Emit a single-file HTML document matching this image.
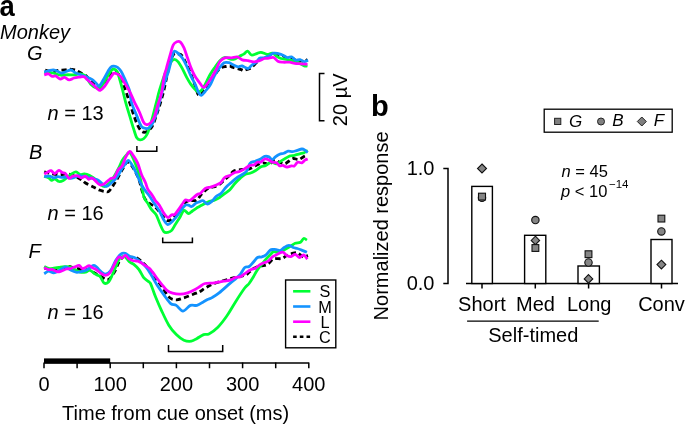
<!DOCTYPE html>
<html><head><meta charset="utf-8">
<style>
html,body{margin:0;padding:0;background:#fff;}
svg{display:block;will-change:transform;}
text{font-family:"Liberation Sans",sans-serif;fill:#000;}
.it{font-style:italic;}
</style></head><body>
<svg width="685" height="425" viewBox="0 0 685 425">
<!-- panel a labels -->
<text transform="translate(-0.6,15.6) scale(0.93,1)" font-size="29.5" font-weight="bold">a</text>
<text x="0" y="38.7" font-size="20" class="it">Monkey</text>
<text x="27" y="60.3" font-size="20" class="it">G</text>
<text x="29" y="158.5" font-size="20" class="it">B</text>
<text x="28.5" y="258.2" font-size="20" class="it">F</text>
<text x="47.5" y="119.7" font-size="20"><tspan class="it">n</tspan> = 13</text>
<text x="47.5" y="219.9" font-size="20"><tspan class="it">n</tspan> = 16</text>
<text x="47.5" y="319.2" font-size="20"><tspan class="it">n</tspan> = 16</text>
<g fill="none" stroke-width="2.8" stroke-linejoin="round">
<path d="M45.2 70.0 C45.8 70.2 47.7 70.7 49.0 71.0 C50.3 71.3 51.9 72.0 53.2 71.9 C54.5 71.8 55.7 70.8 56.9 70.5 C58.1 70.2 59.2 70.3 60.5 70.2 C61.8 70.1 63.6 70.1 64.9 69.9 C66.2 69.7 67.0 69.2 68.2 69.1 C69.4 69.0 70.8 69.3 72.0 69.5 C73.2 69.7 74.8 69.7 75.7 70.0 C76.6 70.3 76.7 70.7 77.6 71.2 C78.5 71.7 79.8 72.3 81.0 73.0 C82.2 73.7 83.8 74.3 85.1 75.2 C86.4 76.1 87.7 77.5 88.9 78.5 C90.1 79.5 91.2 80.4 92.5 81.5 C93.8 82.6 95.2 84.0 96.5 85.0 C97.8 86.0 98.8 87.8 100.0 87.5 C101.2 87.2 102.6 85.1 104.0 83.5 C105.4 81.9 106.9 79.8 108.2 78.0 C109.5 76.2 110.8 73.6 112.0 72.5 C113.2 71.4 114.3 71.1 115.5 71.5 C116.7 71.9 117.8 73.0 119.0 75.0 C120.2 77.0 121.5 80.4 122.7 83.2 C123.9 86.0 124.8 88.4 126.0 91.7 C127.2 95.0 128.4 99.1 129.7 102.9 C131.0 106.7 132.3 110.9 133.6 114.6 C134.9 118.3 136.1 122.1 137.5 124.9 C138.9 127.7 140.4 130.5 142.0 131.6 C143.6 132.7 145.5 132.3 147.2 131.4 C148.9 130.5 150.8 128.8 152.3 126.2 C153.8 123.6 155.0 119.3 156.2 115.9 C157.4 112.5 158.3 110.0 159.5 106.0 C160.7 102.0 162.2 97.1 163.5 92.0 C164.8 86.9 166.0 80.0 167.1 75.3 C168.2 70.6 169.0 67.0 169.8 64.0 C170.6 61.0 171.2 58.8 172.0 57.0 C172.8 55.2 173.6 53.9 174.7 53.4 C175.8 52.9 177.3 53.6 178.5 54.0 C179.7 54.4 180.6 54.0 181.8 55.5 C183.1 57.0 184.6 60.1 186.0 63.0 C187.4 65.9 189.0 69.2 190.5 73.0 C192.0 76.8 193.9 82.2 195.2 85.8 C196.5 89.4 197.1 93.3 198.2 94.7 C199.2 96.1 200.5 94.8 201.5 94.0 C202.5 93.2 202.8 92.0 204.1 90.0 C205.3 88.0 207.2 84.5 209.0 82.0 C210.8 79.5 213.1 76.7 214.7 74.7 C216.3 72.7 217.2 71.2 218.5 70.0 C219.8 68.8 221.2 67.8 222.4 67.2 C223.7 66.6 224.8 66.7 226.0 66.5 C227.2 66.3 228.8 65.9 229.8 66.0 C230.9 66.1 231.1 66.8 232.3 67.2 C233.5 67.6 235.5 68.1 237.0 68.5 C238.5 68.9 240.4 69.4 241.4 69.7 C242.4 70.0 242.1 70.5 243.0 70.5 C243.9 70.5 245.6 70.0 247.0 69.5 C248.4 69.0 249.7 68.8 251.2 67.7 C252.7 66.6 254.5 64.5 256.0 63.0 C257.5 61.5 258.3 59.9 260.0 59.0 C261.7 58.1 263.8 58.3 266.0 57.5 C268.2 56.7 270.5 54.4 273.0 54.0 C275.5 53.6 278.7 54.3 281.0 55.0 C283.3 55.7 285.2 57.5 287.0 58.0 C288.8 58.5 290.5 57.6 292.0 58.0 C293.5 58.4 294.7 60.1 296.0 60.5 C297.3 60.9 298.7 60.3 300.0 60.5 C301.3 60.7 302.8 61.6 304.0 61.5 C305.2 61.4 306.9 59.9 307.5 59.6" stroke="#000" stroke-dasharray="5.2 3.2"/>
<path d="M44.2 72.4 C45.5 72.5 49.5 72.4 52.2 72.9 C55.0 73.4 58.0 74.9 60.7 75.2 C63.4 75.5 66.0 74.8 68.2 74.7 C70.4 74.7 71.9 75.1 73.9 74.9 C75.9 74.8 78.5 73.7 80.4 73.8 C82.3 73.9 83.4 74.0 85.1 75.7 C86.8 77.4 88.9 82.2 90.8 84.2 C92.7 86.2 94.8 87.4 96.4 87.9 C98.0 88.4 99.3 88.0 100.6 87.0 C101.9 86.0 103.0 84.0 104.4 81.8 C105.8 79.6 107.8 75.8 109.1 73.8 C110.3 71.8 111.0 70.7 111.9 69.9 C112.8 69.1 113.4 68.8 114.3 69.1 C115.2 69.4 116.2 69.9 117.1 71.5 C118.0 73.1 118.7 75.9 119.5 78.5 C120.3 81.1 121.1 84.3 121.8 87.0 C122.5 89.7 123.0 91.8 123.7 94.5 C124.4 97.2 124.8 99.3 125.8 102.9 C126.8 106.5 128.4 111.6 129.7 115.9 C131.0 120.2 132.4 125.2 133.6 128.8 C134.8 132.5 135.7 136.0 136.8 137.8 C137.9 139.6 138.8 139.7 140.0 139.8 C141.2 139.9 142.7 139.5 143.9 138.5 C145.1 137.5 146.1 136.3 147.2 134.0 C148.3 131.7 149.3 128.3 150.4 124.9 C151.5 121.5 152.5 117.4 153.6 113.3 C154.7 109.2 155.9 104.0 156.9 100.3 C157.9 96.5 157.9 95.3 159.3 90.8 C160.7 86.3 163.3 77.9 165.3 73.1 C167.3 68.3 169.7 64.1 171.2 61.8 C172.7 59.5 173.1 59.3 174.3 59.3 C175.5 59.3 176.8 60.2 178.2 61.8 C179.6 63.4 181.1 66.3 182.5 68.9 C183.9 71.5 185.3 74.8 186.7 77.4 C188.1 80.0 189.5 82.4 190.9 84.4 C192.3 86.4 194.0 88.2 195.2 89.4 C196.4 90.6 197.1 91.7 198.2 91.8 C199.3 91.9 200.6 91.3 201.8 90.0 C203.0 88.7 203.9 86.6 205.3 84.1 C206.7 81.5 208.4 77.5 210.0 74.7 C211.6 72.0 213.0 69.9 214.7 67.6 C216.3 65.3 218.2 62.4 219.9 60.7 C221.6 59.0 223.0 57.6 224.9 57.4 C226.8 57.2 229.7 59.2 231.5 59.4 C233.3 59.6 234.2 59.1 235.6 58.6 C237.0 58.1 238.3 56.9 239.7 56.1 C241.1 55.4 242.5 54.9 243.8 54.1 C245.1 53.3 246.3 51.1 247.6 51.2 C248.9 51.4 250.0 54.6 251.5 55.0 C253.0 55.4 255.0 54.1 256.6 53.6 C258.2 53.1 259.1 52.2 260.9 52.3 C262.7 52.4 265.3 54.1 267.2 54.3 C269.1 54.4 270.9 52.9 272.5 53.2 C274.1 53.6 275.4 55.5 276.8 56.4 C278.2 57.3 279.2 58.0 281.0 58.5 C282.8 59.0 285.4 59.2 287.3 59.6 C289.2 60.0 290.8 60.2 292.6 60.6 C294.4 61.0 295.9 61.3 297.9 62.2 C299.8 63.1 302.7 65.3 304.3 65.9 C305.9 66.5 307.0 65.9 307.5 65.9" stroke="#00ff33"/>
<path d="M44.2 71.9 C44.9 71.7 47.0 71.1 48.5 70.8 C50.0 70.5 51.8 69.9 53.2 69.9 C54.6 69.9 55.5 70.5 56.9 71.0 C58.3 71.5 60.0 73.0 61.6 73.1 C63.2 73.2 64.7 72.0 66.3 71.5 C67.9 71.0 69.6 69.8 71.0 70.0 C72.4 70.2 73.4 71.7 74.8 72.4 C76.2 73.1 77.9 73.7 79.5 74.3 C81.1 74.9 82.6 75.6 84.2 76.2 C85.8 76.8 87.5 77.4 88.9 78.0 C90.3 78.6 91.5 79.0 92.7 79.9 C94.0 80.8 95.3 82.5 96.4 83.5 C97.5 84.5 98.0 86.7 99.2 86.0 C100.4 85.3 102.0 82.0 103.5 79.5 C105.0 77.0 107.0 73.1 108.2 71.0 C109.5 68.9 110.1 67.8 111.0 67.0 C111.9 66.2 112.7 66.0 113.8 66.1 C114.9 66.2 116.4 66.6 117.6 67.4 C118.8 68.2 119.8 69.3 120.9 71.0 C122.0 72.7 123.1 75.2 124.2 77.6 C125.3 79.9 126.5 82.8 127.4 85.1 C128.3 87.4 129.1 88.7 129.8 91.7 C130.5 94.7 130.4 98.9 131.6 102.9 C132.8 106.9 135.2 112.0 136.8 115.9 C138.4 119.8 139.8 124.1 141.3 126.2 C142.8 128.3 144.5 128.3 145.9 128.5 C147.3 128.7 148.5 128.5 149.7 127.5 C150.9 126.5 151.8 124.9 153.0 122.3 C154.2 119.7 155.6 116.0 156.9 112.0 C158.2 108.0 159.3 102.8 160.6 98.0 C161.9 93.2 163.2 87.4 164.5 83.0 C165.8 78.6 167.1 76.4 168.4 71.7 C169.8 67.0 171.6 58.2 172.6 54.8 C173.6 51.4 173.8 51.4 174.7 51.2 C175.6 51.0 176.9 52.2 178.2 53.4 C179.5 54.6 181.1 56.2 182.5 58.3 C183.9 60.4 185.3 63.2 186.7 66.1 C188.1 69.0 189.5 72.9 190.9 75.9 C192.3 79.0 193.9 81.7 195.2 84.4 C196.5 87.2 197.5 90.6 198.5 92.4 C199.5 94.2 200.1 95.5 201.2 95.3 C202.3 95.1 203.8 92.9 205.3 91.2 C206.8 89.5 208.4 88.0 210.0 85.3 C211.6 82.6 213.0 78.3 214.7 75.3 C216.3 72.3 218.3 69.3 219.9 67.2 C221.5 65.1 222.6 63.5 224.1 62.7 C225.6 62.0 227.5 62.4 229.0 62.7 C230.5 63.1 231.6 64.1 233.1 64.8 C234.6 65.5 236.6 66.6 238.1 66.8 C239.6 67.0 240.5 65.7 242.2 66.0 C243.8 66.3 246.3 68.7 248.0 68.5 C249.7 68.3 250.7 65.8 252.1 64.8 C253.5 63.8 255.0 63.4 256.2 62.3 C257.4 61.2 258.4 58.9 259.5 58.2 C260.6 57.5 261.5 58.3 263.0 58.0 C264.5 57.7 266.5 57.2 268.3 56.4 C270.1 55.6 271.5 53.6 273.6 53.2 C275.7 52.9 278.7 53.6 281.0 54.3 C283.3 55.0 285.5 57.1 287.3 57.5 C289.1 57.9 290.2 56.5 291.6 56.9 C293.0 57.3 294.4 59.6 295.8 60.1 C297.2 60.6 298.6 59.3 300.0 59.6 C301.4 59.9 303.0 61.6 304.3 61.7 C305.6 61.8 307.4 60.4 308.0 60.1" stroke="#1493ff"/>
<path d="M44.2 74.9 C44.9 74.7 47.2 73.5 48.5 73.8 C49.8 74.0 51.0 76.1 52.2 76.4 C53.4 76.8 54.2 75.5 55.5 75.9 C56.8 76.3 58.7 78.8 60.2 79.0 C61.7 79.2 63.0 77.2 64.5 77.4 C66.0 77.6 67.6 79.8 69.2 79.9 C70.8 80.0 72.2 78.5 73.9 78.0 C75.6 77.5 77.8 77.3 79.5 77.1 C81.2 76.9 83.0 76.4 84.2 76.8 C85.5 77.2 85.9 78.5 87.0 79.5 C88.1 80.5 89.5 81.6 90.8 82.7 C92.0 83.8 93.4 85.0 94.5 86.0 C95.6 87.0 96.5 88.1 97.5 88.8 C98.5 89.5 99.0 90.7 100.2 90.3 C101.4 89.9 102.9 88.3 104.4 86.5 C105.9 84.7 107.5 81.7 109.1 79.5 C110.7 77.3 112.4 74.2 113.8 73.3 C115.2 72.4 116.5 73.8 117.6 74.3 C118.7 74.8 119.3 74.9 120.4 76.2 C121.5 77.5 123.0 80.3 124.2 82.3 C125.5 84.3 126.8 86.5 127.9 88.4 C129.0 90.3 129.6 91.4 130.7 93.6 C131.8 95.8 132.8 98.5 134.2 101.6 C135.6 104.7 137.9 108.7 139.4 112.0 C140.9 115.3 142.1 119.6 143.3 121.7 C144.5 123.8 145.3 124.5 146.5 124.7 C147.7 124.9 149.1 124.2 150.4 123.0 C151.7 121.8 153.1 120.0 154.3 117.2 C155.5 114.4 156.3 110.0 157.5 106.0 C158.7 102.0 160.4 97.9 161.5 93.0 C162.6 88.1 163.3 80.7 164.1 76.5 C164.9 72.3 165.6 71.4 166.5 68.0 C167.4 64.6 168.7 60.1 169.8 56.2 C170.9 52.4 172.1 47.3 173.3 44.9 C174.5 42.5 175.6 42.3 176.8 41.8 C178.0 41.3 179.2 41.1 180.4 42.1 C181.6 43.1 182.7 45.1 183.9 47.7 C185.1 50.3 186.2 54.3 187.4 57.6 C188.6 60.9 189.8 64.7 190.9 67.5 C192.0 70.3 193.0 72.5 194.0 74.5 C195.0 76.5 196.0 77.8 197.1 79.4 C198.2 81.0 199.5 82.7 200.6 84.1 C201.7 85.5 202.4 87.6 203.5 87.6 C204.6 87.6 205.8 85.7 207.1 84.1 C208.4 82.5 209.7 80.5 211.2 78.2 C212.7 75.9 214.4 72.8 215.9 70.0 C217.4 67.2 218.4 63.5 219.9 61.5 C221.4 59.5 223.0 58.4 224.9 57.8 C226.8 57.2 229.4 57.9 231.5 57.8 C233.6 57.6 235.4 56.6 237.2 56.9 C239.0 57.2 240.4 59.2 242.2 59.8 C244.0 60.4 246.1 60.4 248.0 60.7 C249.9 61.1 251.8 61.9 253.7 61.9 C255.6 61.9 257.7 61.3 259.5 60.7 C261.3 60.1 263.0 58.9 264.4 58.5 C265.8 58.1 266.5 58.5 268.0 58.3 C269.5 58.1 272.0 57.0 273.6 57.5 C275.2 58.0 276.2 60.4 277.8 61.2 C279.4 62.0 281.2 62.0 283.1 62.2 C285.1 62.4 287.6 62.0 289.5 62.2 C291.4 62.4 292.9 63.0 294.8 63.3 C296.7 63.6 299.0 63.6 301.1 63.8 C303.2 64.0 306.4 64.2 307.5 64.3" stroke="#ff00ff"/>
<path d="M44.2 171.9 C45.3 172.2 48.1 173.1 50.6 173.5 C53.1 173.9 56.0 174.5 59.0 174.6 C62.0 174.7 65.6 173.6 68.6 174.0 C71.6 174.4 74.7 176.1 77.0 177.2 C79.3 178.3 80.9 179.4 82.3 180.4 C83.7 181.4 83.9 182.0 85.5 183.0 C87.1 184.0 90.3 185.4 91.9 186.2 C93.5 187.0 93.6 187.1 95.0 187.8 C96.4 188.5 98.5 189.7 100.2 190.3 C101.9 190.9 103.5 191.4 105.0 191.5 C106.5 191.6 107.4 192.7 109.2 190.9 C111.0 189.2 113.8 184.5 116.0 181.0 C118.2 177.5 120.3 172.9 122.2 169.8 C124.1 166.7 125.6 162.3 127.5 162.2 C129.4 162.0 131.9 165.9 133.8 168.9 C135.7 171.9 137.3 175.3 139.0 179.9 C140.7 184.5 142.3 192.9 143.9 196.7 C145.5 200.5 146.9 201.0 148.5 202.5 C150.1 204.0 152.0 204.7 153.6 205.9 C155.2 207.2 156.4 208.2 158.0 210.0 C159.6 211.8 161.4 214.7 163.0 216.5 C164.6 218.3 166.2 220.4 167.8 220.7 C169.4 221.0 171.0 219.6 172.5 218.5 C174.0 217.4 175.6 215.8 177.0 214.0 C178.4 212.2 179.8 209.8 181.0 208.0 C182.2 206.2 183.2 204.2 184.5 203.0 C185.8 201.8 187.2 201.1 188.5 200.7 C189.8 200.3 191.2 200.6 192.5 200.5 C193.8 200.4 195.0 201.2 196.6 200.1 C198.2 199.0 200.1 195.7 202.0 193.8 C203.9 191.9 206.1 189.7 207.9 188.6 C209.7 187.5 211.3 187.6 213.0 187.0 C214.7 186.4 216.4 186.5 218.3 185.3 C220.2 184.1 222.9 181.2 224.7 179.6 C226.5 178.0 227.5 177.4 229.0 176.0 C230.5 174.6 231.9 172.1 233.8 171.0 C235.7 169.9 238.4 170.0 240.3 169.7 C242.2 169.4 243.4 169.5 245.0 169.3 C246.6 169.1 248.3 169.2 250.0 168.6 C251.7 168.0 253.2 166.9 255.3 165.9 C257.4 164.9 260.4 163.1 262.7 162.8 C265.0 162.5 267.0 164.8 269.0 164.3 C271.0 163.9 273.1 160.4 274.9 160.1 C276.7 159.8 278.3 161.9 280.0 162.5 C281.7 163.1 283.4 164.1 284.9 163.8 C286.4 163.6 287.6 161.9 289.0 161.0 C290.4 160.1 291.8 158.7 293.4 158.5 C295.0 158.3 296.9 159.9 298.7 159.6 C300.5 159.2 302.5 157.2 304.0 156.4 C305.5 155.6 307.1 155.2 307.7 155.0" stroke="#000" stroke-dasharray="5.2 3.2"/>
<path d="M44.2 176.2 C44.9 176.5 47.3 177.1 48.5 177.8 C49.7 178.5 50.6 180.2 51.6 180.4 C52.6 180.6 53.6 178.6 54.8 178.8 C56.0 179.0 57.6 181.2 59.0 181.5 C60.4 181.8 61.9 181.1 63.3 180.4 C64.7 179.7 66.1 178.3 67.5 177.2 C68.9 176.1 70.3 174.9 71.7 174.0 C73.1 173.1 74.6 171.8 76.0 171.9 C77.4 172.0 78.8 174.2 80.2 174.6 C81.6 174.9 82.8 173.8 84.4 174.0 C86.0 174.2 88.1 174.9 89.7 175.6 C91.3 176.3 92.7 177.4 94.0 178.3 C95.3 179.2 96.3 179.9 97.5 181.0 C98.7 182.1 99.8 184.1 101.0 185.0 C102.2 185.9 103.7 186.8 105.0 186.5 C106.3 186.2 107.4 185.2 109.0 183.5 C110.6 181.8 112.8 178.5 114.4 176.0 C116.0 173.5 117.2 171.1 118.5 168.5 C119.8 165.9 121.0 162.7 122.2 160.5 C123.5 158.3 124.7 156.8 126.0 155.5 C127.3 154.2 128.4 151.5 129.9 152.8 C131.4 154.1 133.4 158.8 135.1 163.1 C136.8 167.4 138.8 173.0 140.3 178.6 C141.8 184.2 142.7 192.7 143.9 196.8 C145.2 200.9 146.5 201.2 147.8 203.3 C149.1 205.5 150.2 207.8 151.6 209.7 C153.0 211.6 154.8 212.5 156.2 214.9 C157.6 217.3 158.7 221.2 160.0 224.0 C161.3 226.8 162.6 230.3 163.9 231.7 C165.2 233.1 166.5 232.6 167.8 232.4 C169.1 232.2 170.4 231.8 171.7 230.4 C173.0 229.0 174.2 226.2 175.6 224.0 C177.0 221.8 178.7 219.2 180.1 216.9 C181.5 214.6 182.6 211.0 184.0 210.4 C185.4 209.8 187.1 213.5 188.5 213.6 C189.9 213.7 191.0 212.0 192.4 211.0 C193.8 210.0 195.4 208.8 196.9 207.8 C198.4 206.9 199.7 206.3 201.5 205.3 C203.3 204.3 205.8 202.9 207.9 202.0 C210.1 201.1 212.5 200.8 214.4 200.1 C216.3 199.3 217.9 198.6 219.6 197.5 C221.3 196.4 223.0 194.9 224.7 193.6 C226.4 192.3 228.2 191.4 229.9 189.7 C231.6 188.0 233.4 185.2 235.1 183.3 C236.8 181.4 238.6 179.6 240.3 178.1 C242.0 176.6 243.8 175.0 245.4 174.2 C247.0 173.4 248.3 173.9 250.0 173.3 C251.7 172.7 253.5 171.8 255.3 170.7 C257.1 169.6 258.8 167.9 260.6 167.0 C262.4 166.1 264.1 166.2 265.9 165.4 C267.7 164.6 269.4 162.5 271.2 162.2 C273.0 161.9 274.8 164.1 276.5 163.8 C278.2 163.5 280.1 161.6 281.7 160.6 C283.3 159.6 284.6 158.8 286.0 158.0 C287.4 157.2 288.8 156.3 290.2 155.9 C291.6 155.5 292.8 155.7 294.4 155.3 C296.0 155.0 298.1 154.2 299.7 153.8 C301.3 153.4 302.7 153.2 304.0 152.7 C305.3 152.2 307.1 150.9 307.7 150.6" stroke="#00ff33"/>
<path d="M44.2 176.7 C45.1 176.6 47.9 176.0 49.5 176.2 C51.1 176.4 52.4 177.7 53.8 177.8 C55.2 177.9 56.6 176.8 58.0 176.7 C59.4 176.6 60.8 177.3 62.2 177.4 C63.6 177.5 65.1 177.0 66.5 177.2 C67.9 177.3 69.3 178.3 70.7 178.3 C72.1 178.3 73.5 177.6 74.9 177.2 C76.3 176.8 77.6 175.7 79.2 175.6 C80.8 175.5 82.7 176.3 84.4 176.7 C86.2 177.1 88.1 177.5 89.7 177.8 C91.3 178.2 92.5 178.3 94.0 178.8 C95.5 179.3 97.4 179.7 98.9 180.6 C100.4 181.5 101.5 183.4 102.8 184.4 C104.1 185.4 105.1 186.7 106.6 186.4 C108.1 186.1 110.1 184.0 111.8 182.5 C113.5 181.0 115.3 179.7 117.0 177.3 C118.7 174.9 120.7 170.7 122.2 168.3 C123.7 165.9 124.9 164.4 126.0 163.1 C127.1 161.8 127.5 160.1 128.6 160.5 C129.7 160.9 131.2 163.5 132.5 165.7 C133.8 167.8 135.1 170.6 136.4 173.4 C137.7 176.2 139.0 179.9 140.3 182.5 C141.6 185.1 142.6 186.8 144.1 189.0 C145.6 191.2 147.4 193.1 149.1 195.5 C150.8 197.9 152.5 200.7 154.2 203.3 C155.9 205.9 157.8 208.2 159.4 211.0 C161.0 213.8 162.5 217.8 163.9 220.1 C165.3 222.4 166.4 224.4 167.8 224.6 C169.2 224.8 170.8 222.8 172.3 221.4 C173.8 220.0 175.4 218.1 176.9 216.2 C178.4 214.2 180.0 211.5 181.4 209.7 C182.8 207.9 184.1 205.9 185.3 205.2 C186.5 204.4 187.4 205.0 188.5 205.2 C189.6 205.4 190.5 206.8 191.7 206.5 C192.9 206.2 194.4 204.1 195.6 203.3 C196.8 202.6 197.7 202.4 198.9 202.0 C200.1 201.6 201.4 200.4 202.8 200.7 C204.2 201.0 205.8 203.9 207.3 204.0 C208.8 204.1 210.3 202.7 211.8 201.4 C213.3 200.1 214.8 197.5 216.3 196.2 C217.8 194.9 219.3 195.1 220.9 193.6 C222.5 192.1 224.3 189.0 226.0 187.2 C227.7 185.4 229.5 184.1 231.2 182.6 C232.9 181.1 234.7 179.4 236.4 178.1 C238.1 176.8 239.9 176.1 241.6 174.9 C243.3 173.7 245.3 172.9 246.7 171.0 C248.1 169.1 248.6 164.9 250.0 163.3 C251.4 161.7 253.5 161.9 255.3 161.2 C257.1 160.5 259.0 159.8 260.6 159.0 C262.2 158.2 263.4 156.8 264.8 156.4 C266.2 156.1 267.8 156.4 269.0 156.9 C270.2 157.4 271.1 159.6 272.2 159.6 C273.3 159.6 274.2 157.8 275.4 156.9 C276.6 156.0 278.2 154.9 279.6 154.3 C281.0 153.7 282.5 153.7 283.9 153.2 C285.3 152.7 286.7 151.4 288.1 151.1 C289.5 150.8 290.9 151.7 292.3 151.6 C293.7 151.5 295.0 151.0 296.6 150.6 C298.2 150.2 300.5 149.1 301.9 149.0 C303.3 148.9 304.0 149.5 305.0 150.1 C306.0 150.7 307.2 152.3 307.7 152.7" stroke="#1493ff"/>
<path d="M44.2 174.0 C44.8 173.7 46.8 172.5 47.9 171.9 C49.0 171.3 50.0 170.4 51.1 170.7 C52.2 171.0 53.5 173.6 54.8 173.5 C56.1 173.4 57.8 170.5 59.0 170.3 C60.2 170.1 61.1 172.0 62.2 172.5 C63.3 173.0 64.2 172.5 65.4 173.5 C66.6 174.5 67.9 177.9 69.1 178.3 C70.3 178.8 71.5 176.6 72.8 176.2 C74.1 175.8 75.6 175.3 77.0 175.6 C78.4 175.9 79.9 177.7 81.3 177.8 C82.7 177.9 84.3 175.9 85.5 176.2 C86.7 176.4 87.6 179.0 88.7 179.3 C89.8 179.6 90.9 177.6 91.9 177.8 C93.0 178.0 94.0 179.5 95.0 180.4 C96.0 181.3 97.0 182.7 98.0 183.5 C99.0 184.3 99.6 185.2 100.8 185.1 C102.0 185.0 103.7 184.2 105.3 183.1 C106.9 182.0 109.0 179.6 110.5 178.6 C112.0 177.6 113.1 178.8 114.4 177.3 C115.7 175.8 117.0 171.5 118.3 169.6 C119.6 167.7 120.9 167.9 122.2 165.7 C123.5 163.5 124.7 159.0 126.0 156.6 C127.3 154.2 128.7 151.7 129.9 151.5 C131.1 151.3 131.8 153.4 133.1 155.3 C134.4 157.2 136.3 159.9 137.7 163.1 C139.1 166.3 140.3 171.5 141.6 174.7 C142.9 177.9 144.4 180.1 145.4 182.5 C146.4 184.9 146.8 187.2 147.8 189.1 C148.8 191.0 150.3 192.3 151.6 194.2 C152.9 196.1 154.2 198.9 155.5 200.7 C156.8 202.5 158.1 203.3 159.4 205.2 C160.7 207.1 161.9 210.2 163.3 212.3 C164.7 214.4 166.4 217.1 167.8 217.5 C169.2 217.9 170.5 215.4 171.7 214.9 C172.9 214.4 173.7 215.3 174.9 214.3 C176.1 213.3 177.6 210.7 178.8 209.1 C180.0 207.5 180.9 206.1 182.0 204.6 C183.1 203.1 184.1 200.7 185.3 200.0 C186.5 199.3 187.8 201.0 189.1 200.7 C190.4 200.4 191.6 199.2 193.0 198.1 C194.4 197.0 196.3 194.9 197.5 194.2 C198.7 193.4 198.9 194.6 200.2 193.6 C201.5 192.6 203.6 189.5 205.3 188.4 C207.0 187.3 208.8 187.7 210.5 187.2 C212.2 186.7 214.0 186.0 215.7 185.2 C217.4 184.4 219.4 183.9 220.9 182.6 C222.4 181.3 223.2 178.7 224.7 177.5 C226.2 176.3 228.4 176.3 229.9 175.5 C231.4 174.7 232.3 173.6 233.8 172.9 C235.3 172.2 237.3 172.2 239.0 171.6 C240.7 171.0 242.3 170.1 244.1 169.1 C245.9 168.1 248.3 166.1 250.0 165.4 C251.7 164.7 253.0 165.4 254.2 164.9 C255.4 164.4 256.3 162.6 257.4 162.2 C258.5 161.8 259.4 162.7 260.6 162.2 C261.8 161.7 263.4 159.3 264.8 159.0 C266.2 158.7 267.8 159.6 269.0 160.1 C270.2 160.6 270.9 161.8 272.2 162.2 C273.4 162.6 275.3 162.2 276.5 162.8 C277.7 163.4 278.6 165.5 279.6 165.9 C280.7 166.3 281.6 165.2 282.8 165.4 C284.0 165.6 285.6 166.9 287.0 167.0 C288.4 167.1 290.1 166.1 291.3 165.9 C292.5 165.7 293.3 166.5 294.4 165.9 C295.4 165.3 296.4 162.7 297.6 162.2 C298.9 161.7 300.7 163.2 301.9 162.8 C303.1 162.5 304.0 160.7 305.0 160.1 C306.0 159.5 307.2 159.2 307.7 159.0" stroke="#ff00ff"/>
<path d="M44.2 268.0 C45.2 268.2 48.0 269.2 50.0 269.5 C52.0 269.8 54.0 270.2 56.0 270.0 C58.0 269.8 59.9 269.1 62.0 268.5 C64.1 267.9 66.6 266.5 68.6 266.4 C70.6 266.3 72.2 267.6 74.0 268.0 C75.8 268.4 77.5 268.7 79.2 269.0 C80.9 269.3 82.4 269.9 84.0 270.0 C85.6 270.1 86.9 269.1 88.7 269.6 C90.5 270.2 93.0 272.2 95.0 273.3 C97.0 274.4 98.8 275.4 101.0 276.5 C103.2 277.6 105.7 280.6 107.9 279.9 C110.1 279.1 112.6 275.0 114.4 272.0 C116.2 269.0 117.4 264.6 119.0 262.0 C120.6 259.4 122.3 257.3 124.0 256.5 C125.7 255.7 126.9 256.8 129.0 257.0 C131.1 257.2 134.4 257.1 136.6 257.9 C138.8 258.7 140.3 260.5 142.0 262.0 C143.7 263.5 145.0 264.6 147.0 267.0 C149.0 269.4 151.4 273.2 153.8 276.3 C156.2 279.4 158.8 282.2 161.3 285.7 C163.8 289.1 166.3 294.6 168.8 297.0 C171.3 299.4 173.8 299.7 176.3 299.8 C178.8 299.9 181.1 298.8 183.9 297.9 C186.7 297.0 190.6 295.3 193.3 294.2 C196.0 293.1 198.1 292.5 200.0 291.5 C201.9 290.5 202.6 289.5 205.0 288.2 C207.4 286.9 209.5 285.3 214.4 283.5 C219.3 281.7 229.9 278.8 234.2 277.6 C238.5 276.4 238.1 276.9 240.0 276.5 C241.9 276.1 244.2 275.7 245.9 274.9 C247.6 274.1 248.6 272.6 250.0 271.5 C251.4 270.4 252.6 269.0 254.4 268.1 C256.2 267.2 258.8 266.6 261.0 266.0 C263.2 265.4 265.5 265.5 267.6 264.4 C269.7 263.2 271.1 260.1 273.4 259.1 C275.7 258.1 279.4 259.1 281.5 258.6 C283.6 258.1 284.4 256.8 286.0 256.0 C287.6 255.2 289.1 254.3 291.0 253.8 C292.9 253.3 295.2 252.3 297.3 252.8 C299.4 253.3 301.9 256.6 303.7 257.0 C305.5 257.4 307.2 255.7 307.9 255.4" stroke="#000" stroke-dasharray="5.2 3.2"/>
<path d="M44.2 266.4 C44.9 266.8 46.9 268.2 48.5 268.5 C50.1 268.8 52.0 268.4 53.8 268.2 C55.5 268.0 57.2 267.8 59.0 267.5 C60.8 267.2 62.5 266.8 64.3 266.7 C66.1 266.6 67.8 266.4 69.6 266.9 C71.4 267.4 73.1 268.7 74.9 269.6 C76.7 270.5 78.4 271.8 80.2 272.2 C82.0 272.6 83.9 272.5 85.5 272.2 C87.1 271.9 88.3 269.9 89.7 270.1 C91.1 270.3 92.8 272.5 94.0 273.3 C95.2 274.1 96.0 274.4 97.0 275.0 C98.0 275.6 99.0 275.3 100.2 276.7 C101.4 278.1 102.7 282.2 104.1 283.1 C105.5 284.0 107.3 283.1 108.6 281.9 C109.9 280.7 110.6 278.5 111.8 276.0 C113.0 273.5 114.4 269.9 115.7 267.0 C117.0 264.1 118.1 260.3 119.6 258.6 C121.1 256.9 123.1 256.1 124.7 256.6 C126.3 257.1 127.8 260.5 129.3 261.8 C130.8 263.1 132.2 263.1 133.8 264.4 C135.4 265.7 137.4 267.5 139.0 269.6 C140.6 271.8 142.0 275.4 143.5 277.3 C145.0 279.2 146.8 280.2 148.0 281.2 C149.2 282.2 149.7 282.0 150.5 283.5 C151.3 285.0 152.2 287.8 153.0 290.0 C153.8 292.2 154.2 293.6 155.6 297.0 C157.0 300.4 159.1 305.4 161.3 310.1 C163.5 314.8 166.3 321.1 168.8 325.2 C171.3 329.3 173.8 332.1 176.3 334.6 C178.8 337.1 181.4 339.1 183.9 340.2 C186.4 341.3 189.2 341.5 191.4 341.2 C193.6 340.9 195.0 339.5 197.0 338.4 C199.0 337.3 201.6 335.4 203.6 334.6 C205.6 333.9 206.5 335.1 208.9 333.9 C211.3 332.7 214.9 330.2 217.9 327.2 C220.9 324.2 223.8 320.3 226.8 316.0 C229.8 311.7 232.8 306.1 235.8 301.4 C238.8 296.7 242.5 291.0 244.7 288.0 C246.9 285.0 247.7 285.3 249.1 283.5 C250.5 281.7 251.9 279.4 253.3 277.1 C254.7 274.8 256.1 271.7 257.5 269.6 C258.9 267.5 260.4 266.1 261.8 264.4 C263.2 262.6 264.6 260.7 266.0 259.1 C267.4 257.5 269.0 256.1 270.2 254.8 C271.4 253.6 272.4 252.0 273.4 251.6 C274.4 251.2 274.8 252.3 276.2 252.2 C277.6 252.1 279.9 251.7 281.5 251.2 C283.1 250.7 284.1 249.9 285.7 249.0 C287.3 248.1 289.4 246.9 291.0 245.9 C292.6 244.9 293.6 243.8 295.2 243.2 C296.8 242.6 299.1 243.0 300.5 242.2 C301.9 241.4 302.6 238.8 303.7 238.5 C304.8 238.2 306.4 239.8 306.9 240.1" stroke="#00ff33"/>
<path d="M44.2 273.8 C44.9 273.4 46.9 271.4 48.5 271.2 C50.1 271.0 52.0 272.9 53.8 272.8 C55.5 272.7 57.1 271.6 59.0 270.6 C60.9 269.6 63.5 267.0 65.4 266.9 C67.4 266.8 68.9 269.2 70.7 270.1 C72.5 271.0 74.2 271.9 76.0 272.2 C77.8 272.5 79.5 272.0 81.3 271.7 C83.1 271.4 85.0 270.9 86.6 270.1 C88.2 269.3 89.6 267.7 90.8 266.9 C92.0 266.1 93.0 265.2 94.0 265.3 C95.0 265.4 96.1 266.6 97.1 267.5 C98.1 268.4 98.8 269.8 100.2 270.9 C101.6 272.0 103.6 274.1 105.3 274.1 C107.0 274.1 108.8 273.2 110.5 270.9 C112.2 268.6 114.0 263.3 115.7 260.5 C117.4 257.7 119.3 255.3 120.9 254.1 C122.5 252.9 123.9 253.0 125.4 253.4 C126.9 253.8 128.5 256.0 129.9 256.6 C131.3 257.2 132.3 256.7 133.8 257.3 C135.3 257.9 137.3 259.2 139.0 260.5 C140.7 261.8 142.6 263.5 144.1 265.0 C145.6 266.5 146.9 268.0 148.0 269.6 C149.1 271.2 150.0 272.8 150.9 274.4 C151.8 276.0 152.4 277.1 153.5 279.0 C154.6 280.9 155.7 283.0 157.5 285.7 C159.3 288.4 161.9 292.1 164.1 295.1 C166.3 298.1 168.7 301.9 170.7 303.6 C172.7 305.3 174.3 304.1 176.3 305.4 C178.3 306.6 180.6 311.1 182.9 311.1 C185.2 311.1 188.1 306.3 190.4 305.4 C192.8 304.4 194.8 306.0 197.0 305.4 C199.2 304.8 201.8 302.7 203.6 301.7 C205.3 300.7 206.1 300.2 207.5 299.5 C208.9 298.8 210.2 298.7 212.1 297.6 C214.0 296.5 216.1 295.3 219.1 292.9 C222.1 290.5 227.3 285.7 230.0 283.4 C232.7 281.1 233.5 280.8 235.3 279.2 C237.1 277.6 239.0 275.8 240.6 273.9 C242.2 271.9 243.4 268.7 244.8 267.5 C246.2 266.3 247.7 267.4 249.1 266.5 C250.5 265.6 251.9 263.7 253.3 262.2 C254.7 260.7 256.1 258.4 257.5 257.5 C258.9 256.6 260.4 257.3 261.8 256.9 C263.2 256.4 264.6 255.9 266.0 254.8 C267.4 253.7 269.0 251.0 270.2 250.1 C271.4 249.2 272.4 249.6 273.4 249.5 C274.4 249.4 275.0 249.4 276.2 249.6 C277.4 249.8 279.1 250.9 280.4 250.6 C281.7 250.2 282.7 248.4 284.1 247.5 C285.5 246.6 287.4 245.3 288.9 245.3 C290.4 245.3 291.7 247.0 293.1 247.5 C294.5 248.0 295.9 248.1 297.3 248.5 C298.7 248.9 300.0 249.5 301.6 250.1 C303.2 250.7 306.0 251.8 306.9 252.2" stroke="#1493ff"/>
<path d="M44.2 267.5 C44.9 267.9 47.1 269.2 48.5 269.6 C49.9 270.0 51.3 269.2 52.7 269.6 C54.1 270.0 55.5 271.4 56.9 271.7 C58.3 272.0 59.6 271.6 61.2 271.2 C62.8 270.8 64.9 269.4 66.5 269.0 C68.1 268.6 69.3 268.9 70.7 268.5 C72.1 268.1 73.5 267.4 74.9 266.9 C76.3 266.4 78.0 265.0 79.2 265.3 C80.4 265.6 81.2 268.1 82.3 268.5 C83.3 268.9 84.3 268.0 85.5 267.5 C86.7 267.0 88.0 265.6 89.2 265.7 C90.4 265.8 91.8 267.4 92.9 268.0 C94.1 268.6 94.9 268.8 96.1 269.6 C97.3 270.4 98.7 271.8 100.2 272.8 C101.7 273.8 103.7 275.4 105.3 275.4 C106.9 275.4 108.4 274.6 109.9 272.8 C111.4 271.0 113.0 267.0 114.4 264.4 C115.8 261.8 117.0 258.4 118.3 257.3 C119.6 256.2 121.0 258.2 122.2 257.9 C123.4 257.6 124.3 255.2 125.4 255.3 C126.5 255.4 127.4 257.7 128.6 258.6 C129.8 259.5 131.0 260.1 132.5 260.5 C134.0 260.9 136.2 260.8 137.7 261.2 C139.2 261.6 140.3 262.4 141.6 263.1 C142.9 263.9 144.1 264.8 145.4 265.7 C146.7 266.6 148.1 267.2 149.3 268.3 C150.5 269.4 151.4 270.7 152.5 272.0 C153.6 273.3 154.1 274.3 155.6 276.3 C157.1 278.3 159.4 281.5 161.3 283.8 C163.2 286.1 165.0 288.8 166.9 290.4 C168.8 292.0 170.4 292.6 172.6 293.2 C174.8 293.8 177.6 294.3 180.1 294.2 C182.6 294.1 185.1 293.6 187.6 292.8 C190.1 292.0 193.0 290.6 195.1 289.5 C197.2 288.4 198.3 287.5 200.0 286.5 C201.7 285.5 202.6 284.1 205.0 283.5 C207.4 282.9 211.3 283.2 214.4 282.8 C217.5 282.4 221.2 281.6 223.8 281.2 C226.4 280.8 228.1 280.8 230.0 280.2 C231.9 279.6 233.5 278.2 235.3 277.6 C237.1 277.0 238.8 277.4 240.6 276.6 C242.4 275.8 244.1 274.0 245.9 272.8 C247.7 271.6 249.6 270.4 251.2 269.6 C252.8 268.8 254.0 269.0 255.4 268.2 C256.8 267.4 258.2 265.8 259.6 264.9 C261.0 264.0 262.5 263.4 263.9 262.8 C265.3 262.2 266.7 262.2 268.1 261.2 C269.5 260.2 271.0 257.9 272.4 256.9 C273.8 255.8 274.5 255.7 276.2 254.9 C277.9 254.1 280.8 252.1 282.5 252.2 C284.2 252.3 285.3 254.7 286.7 255.4 C288.1 256.1 289.6 256.7 291.0 256.5 C292.4 256.3 293.8 254.1 295.2 254.3 C296.6 254.5 298.0 257.4 299.4 257.5 C300.8 257.6 302.4 254.6 303.7 254.9 C305.0 255.2 306.8 258.4 307.4 259.1" stroke="#ff00ff"/>
</g>
<!-- scale bar -->
<path d="M324.5 73.4 H319.5 V120.8 H324.5" fill="none" stroke="#000" stroke-width="1.5"/>
<text transform="translate(346.7,99.8) rotate(-90)" font-size="20" text-anchor="middle">20 µV</text>
<!-- brackets -->
<path d="M136.9 145.9 V151.3 H156.8 V145.9" fill="none" stroke="#000" stroke-width="1.5"/>
<path d="M162.7 237.4 V242.6 H192.4 V237.4" fill="none" stroke="#000" stroke-width="1.5"/>
<path d="M168.5 345 V351.4 H222.7 V345" fill="none" stroke="#000" stroke-width="1.5"/>
<!-- x axis -->
<rect x="44" y="358.4" width="66.2" height="5" fill="#000"/>
<path d="M44 363 H308.8" stroke="#000" stroke-width="1.5" fill="none"/>
<path d="M44 362.5 V368.2 M77.1 362.5 V368.2 M110.2 362.5 V368.2 M143.3 362.5 V368.2 M176.4 362.5 V368.2 M209.5 362.5 V368.2 M242.6 362.5 V368.2 M275.7 362.5 V368.2 M308.8 362.5 V368.2" stroke="#000" stroke-width="1.5" fill="none"/>
<g font-size="20" text-anchor="middle">
<text x="44" y="391.2">0</text>
<text x="110.2" y="391.2">100</text>
<text x="176.4" y="391.2">200</text>
<text x="242.6" y="391.2">300</text>
<text x="308.8" y="391.2">400</text>
<text x="175.6" y="420.2">Time from cue onset (ms)</text>
</g>
<!-- legend -->
<rect x="285.6" y="280" width="50.2" height="67.8" fill="#fff" stroke="#000" stroke-width="1.4"/>
<path d="M293.1 291.3 H310.4" stroke="#00ff33" stroke-width="2.6"/>
<path d="M293.1 306.5 H310.4" stroke="#1493ff" stroke-width="2.6"/>
<path d="M293.1 321.7 H310.4" stroke="#ff00ff" stroke-width="2.6"/>
<path d="M293.1 336.7 H310.4" stroke="#000" stroke-width="2.6" stroke-dasharray="3.6 3.1"/>
<g font-size="16.3" text-anchor="middle">
<text x="325" y="297.2">S</text>
<text x="325" y="312.5">M</text>
<text x="325" y="327.8">L</text>
<text x="325" y="343">C</text>
</g>
<!-- PANEL B -->
<text x="371" y="116.3" font-size="29" font-weight="bold">b</text>
<rect x="544.2" y="109.2" width="128" height="23" fill="#fff" stroke="#000" stroke-width="1.3"/>
<rect x="554.6" y="118.3" width="6.2" height="6.2" fill="#808080" stroke="#222" stroke-width="1"/>
<text x="569" y="126.6" font-size="17" class="it">G</text>
<circle cx="601" cy="121.5" r="3.5" fill="#808080" stroke="#222" stroke-width="1"/>
<text x="612.2" y="126.4" font-size="17" class="it">B</text>
<path d="M641.8 117 L646.3 121.5 L641.8 126 L637.3 121.5 Z" fill="#808080" stroke="#222" stroke-width="1"/>
<text x="653.8" y="126.4" font-size="17" class="it">F</text>
<text transform="translate(388.3,225.9) rotate(-90)" font-size="20" text-anchor="middle">Normalized response</text>
<text x="434.5" y="174.9" font-size="20" text-anchor="end">1.0</text>
<text x="434.5" y="290.2" font-size="20" text-anchor="end">0.0</text>
<path d="M443.3 168.4 H448 V283.5 H443.3" fill="none" stroke="#000" stroke-width="1.5"/>
<path d="M466 283.5 H678" stroke="#000" stroke-width="1.5"/>
<path d="M482 283.5 V288.5 M535.3 283.5 V288.5 M588.6 283.5 V288.5 M661.5 283.5 V288.5" stroke="#000" stroke-width="1.5"/>
<g fill="#fff" stroke="#000" stroke-width="1.4">
<rect x="471.8" y="186.4" width="20.6" height="97.1"/>
<rect x="524.6" y="235.3" width="21.2" height="48.2"/>
<rect x="578" y="266" width="21.4" height="17.5"/>
<rect x="651" y="239.5" width="21" height="44"/>
</g>
<g fill="#858585" stroke="#111" stroke-width="1.1">
<path d="M482 164 L486.5 168.5 L482 173 L477.5 168.5 Z"/>
<circle cx="482" cy="197.8" r="3.7"/>
<rect x="478.5" y="193.2" width="7" height="6.8"/>
<circle cx="535.4" cy="220.1" r="3.7"/>
<path d="M535.4 236.2 L539.6 240.4 L535.4 244.6 L531.2 240.4 Z"/>
<rect x="532" y="244.6" width="6.8" height="6.8"/>
<rect x="585.1" y="250.8" width="6.8" height="6.8"/>
<circle cx="588.5" cy="262.5" r="3.7"/>
<path d="M588.5 274.6 L592.8 278.9 L588.5 283.2 L584.2 278.9 Z"/>
<rect x="658" y="215.2" width="6.8" height="6.8"/>
<circle cx="661.4" cy="231.4" r="3.7"/>
<path d="M661.4 260.2 L665.8 264.6 L661.4 269 L657 264.6 Z"/>
</g>
<g font-size="20" text-anchor="middle">
<text x="482" y="310.7">Short</text>
<text x="535.5" y="310.7">Med</text>
<text x="589.2" y="310.7">Long</text>
<text x="661.5" y="310.7">Conv</text>
<text x="533.3" y="342.2">Self-timed</text>
</g>
<path d="M467.1 321.2 H598.7" stroke="#000" stroke-width="1.3"/>
<text x="561.5" y="177.3" font-size="16.5"><tspan class="it">n</tspan> = 45</text>
<text x="561" y="196.8" font-size="16.5"><tspan class="it">p</tspan> &lt; 10</text>
<text x="609" y="188.4" font-size="11.5">−14</text>
</svg>
</body></html>
